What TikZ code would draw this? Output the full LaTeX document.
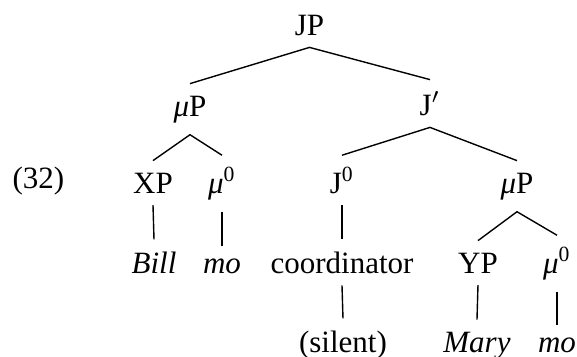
\documentclass[tikz,border=0pt]{standalone}
\usepackage{fontspec}
\setmainfont{Liberation Serif}
\usepackage{tikz}
\usetikzlibrary{positioning}
\newcommand{\muit}{{\itshape μ}}
\newcommand{\zerosup}{\textsuperscript{0}}
\tikzset{
  synnode/.style={inner xsep=0pt, inner ysep=3.9pt, outer sep=0pt, anchor=base},
  lexnode/.style={synnode, font=\itshape},
  exnum/.style={inner sep=0pt, anchor=base west},
  branch/.style={line width=0.45pt, black}
}

\begin{document}
\begin{tikzpicture}[x=0.3226pt, y=-0.3226pt]
  \useasboundingbox (0,0) rectangle (577,357);
  % example number
  \node[exnum] (num) at (12,188) {(32)};
  % categories
  \node[synnode] (jp) at (309.5,35) {JP};
  \node[synnode] (mupa) at (190,116) {\muit P};
  \node[synnode] (jbar) at (430,115) {J$'$};
  \node[synnode] (xp) at (153,193) {XP};
  \node[synnode] (mua) at (222,193) {\muit\zerosup};
  \node[synnode] (jzero) at (342,193) {J\zerosup};
  \node[synnode] (mupb) at (517,193) {\muit P};
  \node[synnode] (coord) at (342,273) {coordinator};
  \node[synnode] (yp) at (478,273) {YP};
  \node[synnode] (mub) at (557,273) {\muit\zerosup};
  % words
  \node[lexnode] (bill) at (154,273) {Bill};
  \node[lexnode] (moa) at (222,273) {mo};
  \node[synnode] (silent) at (343,352) {(silent)};
  \node[lexnode] (mary) at (477,352) {Mary};
  \node[lexnode] (mob) at (557,352) {mo};
  % branches
  \draw[branch] (mupa.north) -- (jp.south) -- (jbar.north);
  \draw[branch] (xp.north) -- (mupa.south) -- (mua.north);
  \draw[branch] (jzero.north) -- (jbar.south) -- (mupb.north);
  \draw[branch] (yp.north) -- (mupb.south) -- (mub.north);
  \draw[branch] (xp.south) -- (bill.north);
  \draw[branch] (mua.south) -- (moa.north);
  \draw[branch] (jzero.south) -- (coord.north);
  \draw[branch] (coord.south) -- (silent.north);
  \draw[branch] (yp.south) -- (mary.north);
  \draw[branch] (mub.south) -- (mob.north);
\end{tikzpicture}
\end{document}
